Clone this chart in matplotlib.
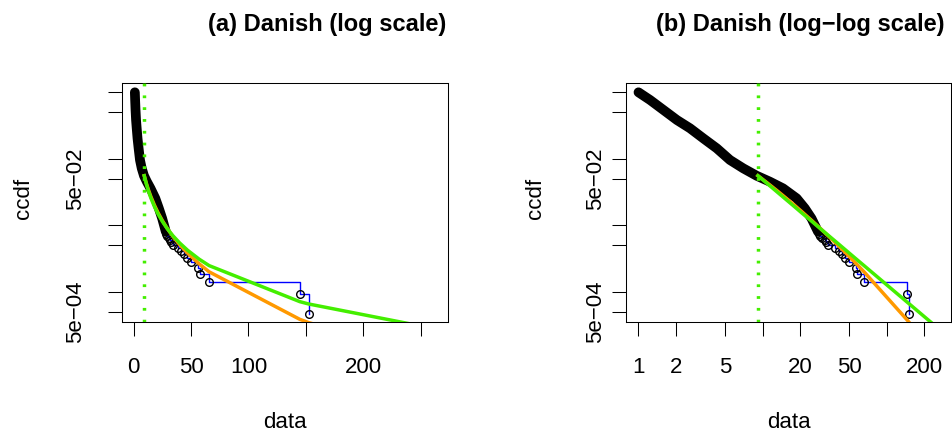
import matplotlib.pyplot as plt

plt.rcParams['font.family'] = ['Liberation Sans', 'DejaVu Sans']

# Danish fire losses: empirical ccdf, dense part (read along the black band)
band_x = [1.0, 1.24, 1.59, 2.04, 2.60, 3.33, 4.27, 5.46, 6.98, 8.95,
          11.45, 14.6, 18.8, 21.9, 24.8, 28.0]
band_ccdf = [1.0, 0.766, 0.542, 0.383, 0.288, 0.203, 0.144, 0.096, 0.072, 0.0557,
             0.0453, 0.036, 0.0255, 0.018, 0.0127, 0.0080]

# sparse tail points (largest first)
tail_x = [152.4, 144.7, 65.7, 57.4, 56.2, 50.1, 46.5, 43.6, 41.5, 38.2,
          33.8, 32.6, 31.7, 30.4, 29.0, 28.4]
tail_ccdf = [0.000461, 0.000923, 0.001384, 0.001846, 0.002307, 0.002769, 0.00323,
             0.003692, 0.004153, 0.004615, 0.005076, 0.005538, 0.005999,
             0.006461, 0.006922, 0.007384]

# fitted models, read at the data points above xmin
xmin = 9.17
fit_x = [9.17, 11, 13, 15, 18, 21, 25, 29, 34, 40, 47, 57, 65.7, 144.7, 152.4, 263.25]
green_ccdf = [0.0557, 0.0418, 0.0321, 0.0256, 0.0192, 0.0150, 0.01142, 0.00903,
              0.00702, 0.00544, 0.00421, 0.00310, 0.00248, 0.000712, 0.000657, 0.000277]
orange_ccdf = [0.0557, 0.0429, 0.0335, 0.0269, 0.0202, 0.0157, 0.01174, 0.00910,
               0.00688, 0.00513, 0.00381, 0.00264, 0.0020, 0.000386, 0.000345, 0.000099]

GREEN = '#44ee00'
ORANGE = '#ff9900'

fig = plt.figure(figsize=(9.52, 4.34), dpi=100)
ax1 = fig.add_axes([122 / 952, 1 - 322 / 434, 326 / 952, 239 / 434])
ax2 = fig.add_axes([626 / 952, 1 - 322 / 434, 325 / 952, 239 / 434])


def draw(ax):
    ax.plot(band_x, band_ccdf, color='black', lw=7, solid_capstyle='round',
            solid_joinstyle='round', zorder=3)
    step_x = tail_x[::-1]
    step_y = tail_ccdf[::-1]
    ax.plot(step_x, step_y, drawstyle='steps-post', color='blue', lw=1, zorder=2)
    ax.plot(tail_x, tail_ccdf, 'o', mfc='none', mec='black', ms=5.5, mew=1.0, zorder=4)
    ax.plot(fit_x, orange_ccdf, color=ORANGE, lw=2.5, zorder=5)
    ax.plot(fit_x, green_ccdf, color=GREEN, lw=2.5, zorder=6)
    ax.axvline(xmin, color=GREEN, lw=2.5, ls=(0, (0.8, 2.6)), zorder=7)
    ax.set_yscale('log')
    ax.set_ylim(3.52e-4, 1.38)
    ax.set_yticks([1, 0.5, 0.1, 0.05, 0.01, 0.005, 0.001, 0.0005])
    ax.set_yticklabels(['', '', '', '5e\u221202', '', '', '', '5e\u221204'],
                       rotation=90, va='center')
    ax.minorticks_off()
    ax.tick_params(length=10, width=0.75, labelsize=16)
    ax.tick_params(axis='x', pad=15)
    for s in ax.spines.values():
        s.set_linewidth(0.75)


draw(ax1)
ax1.set_xlim(-10.2, 273.8)
ax1.set_xticks([0, 50, 100, 150, 200, 250])
ax1.set_xticklabels(['0', '50', '100', '', '200', ''])
ax1.tick_params(axis='y', pad=16)

draw(ax2)
ax2.set_xscale('log')
ax2.set_xlim(0.793, 330)
ax2.set_xticks([1, 2, 5, 10, 20, 50, 100, 200])
ax2.set_xticklabels(['1', '2', '5', '', '20', '50', '', '200'])
ax2.minorticks_off()
ax2.tick_params(axis='y', pad=4)

fig.text(327 / 952, 1 - 25 / 434, '(a) Danish (log scale)', ha='center', va='center',
         fontsize=17, fontweight='bold')
fig.text(800 / 952, 1 - 25 / 434, '(b) Danish (log\u2212log scale)', ha='center', va='center',
         fontsize=17, fontweight='bold')
fig.text(24 / 952, 1 - 198 / 434, 'ccdf', rotation=90, ha='center', va='center', fontsize=16)
fig.text(536 / 952, 1 - 198 / 434, 'ccdf', rotation=90, ha='center', va='center', fontsize=16)
fig.text(285 / 952, 1 - 423 / 434, 'data', ha='center', va='center', fontsize=16)
fig.text(789 / 952, 1 - 423 / 434, 'data', ha='center', va='center', fontsize=16)

fig.savefig('out.png', dpi=100)
